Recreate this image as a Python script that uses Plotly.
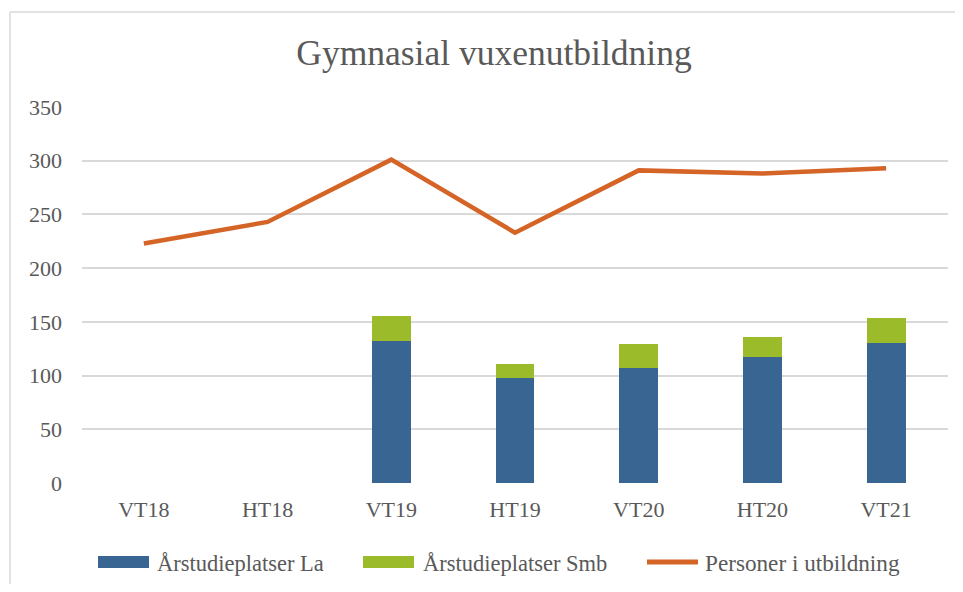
import plotly.graph_objects as go

categories = ["VT18", "HT18", "VT19", "HT19", "VT20", "HT20", "VT21"]
la_values = [None, None, 132, 98, 107, 117, 130]
smb_values = [None, None, 23, 13, 22, 19, 24]
personer_values = [223, 243, 301, 233, 291, 288, 293]
y_ticks = [0, 50, 100, 150, 200, 250, 300, 350]
series_names = ["Årstudieplatser La", "Årstudieplatser Smb", "Personer i utbildning"]
series_colors = ["#386591", "#9BBB2B", "#D56427"]

FONT = "Liberation Serif, Times New Roman, serif"
TXT = "#595959"

fig = go.Figure()
fig.add_trace(go.Bar(x=categories, y=la_values, name=series_names[0],
                     marker=dict(color=series_colors[0], line=dict(width=0))))
fig.add_trace(go.Bar(x=categories, y=smb_values, name=series_names[1],
                     marker=dict(color=series_colors[1], line=dict(width=0))))
fig.add_trace(go.Scatter(x=categories, y=personer_values, name=series_names[2],
                         mode="lines", line=dict(color=series_colors[2], width=4.5)))

OFF = 8  # page body margin offset
W, H = 963 - 2 * OFF, 592 - 2 * OFF
L, T = 82 - OFF, 107 - OFF
R = W - (948 - OFF)
B = H - (483 - OFF)
pw = W - L - R
ph = H - T - B

def px_x(x):
    # x given in reference screen pixels
    return (x - OFF - L) / pw

def px_y(y):
    return (H - B - (y - OFF)) / ph

fig.update_layout(
    width=W, height=H,
    barmode="stack", bargap=0.685,
    plot_bgcolor="white", paper_bgcolor="white",
    margin=dict(l=L, r=R, t=T, b=B, autoexpand=False),
    font=dict(family=FONT, color=TXT, size=22),
    title=dict(text="Gymnasial vuxenutbildning", x=(494 - OFF) / W, xanchor="center",
               y=1 - (53 - OFF) / H, yanchor="middle", xref="container", yref="container",
               font=dict(family=FONT, size=35.5, color=TXT)),
    xaxis=dict(showgrid=False, showline=False, zeroline=False, ticks="", automargin=False,
               ticklabelstandoff=11, tickfont=dict(family=FONT, size=22, color=TXT)),
    yaxis=dict(range=[0, 350], tickvals=y_ticks, showgrid=True, gridcolor="#D9D9D9",
               gridwidth=1.5, zeroline=False, showline=False, ticks="", automargin=False,
               ticklabelstandoff=19, tickfont=dict(family=FONT, size=22, color=TXT)),
    showlegend=False,
)

# outer chart border (top and left edges visible)
border = dict(color="#D9D9D9", width=1.5)
fig.add_shape(type="line", xref="paper", yref="paper",
              x0=px_x(10), x1=px_x(975), y0=px_y(12), y1=px_y(12), line=border, layer="below")
fig.add_shape(type="line", xref="paper", yref="paper",
              x0=px_x(10), x1=px_x(10), y0=px_y(12), y1=px_y(600), line=border, layer="below")

# legend drawn as swatches + labels
leg_y = 562
items = [(98, 149, 155), (363, 414, 421), (645, 700, 703)]
for i, (x0, x1, tx) in enumerate(items):
    if i < 2:
        fig.add_shape(type="rect", xref="paper", yref="paper",
                      x0=px_x(x0), x1=px_x(x1), y0=px_y(leg_y + 6), y1=px_y(leg_y - 6),
                      line=dict(width=0), fillcolor=series_colors[i])
    else:
        fig.add_shape(type="line", xref="paper", yref="paper",
                      x0=px_x(x0 + 2), x1=px_x(x1 - 2), y0=px_y(leg_y), y1=px_y(leg_y),
                      line=dict(width=5, color=series_colors[i]))
    fig.add_annotation(xref="paper", yref="paper", x=px_x(tx), y=px_y(leg_y + 1),
                       text=series_names[i], showarrow=False, xanchor="left", yanchor="middle",
                       font=dict(family=FONT, size=22.5 if i < 2 else 23.2, color=TXT))

fig.write_html("out.html")
